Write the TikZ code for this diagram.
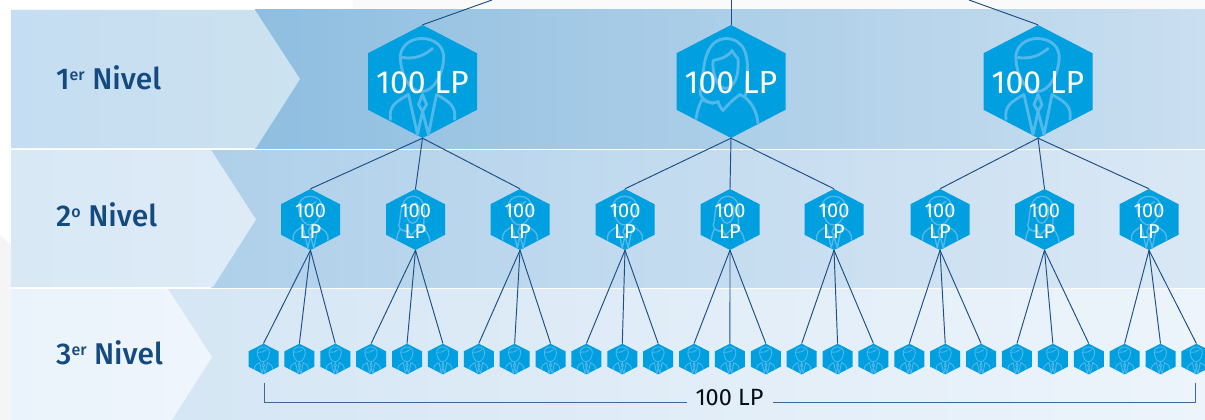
\documentclass[tikz,border=0pt]{standalone}
\usepackage{fontspec}
\setmainfont{Fira Sans}
\newfontfamily\labfont{Fira Sans Medium}
\definecolor{hexblue}{HTML}{009FE0}
\definecolor{iconblue}{HTML}{52B7E9}
\definecolor{linenavy}{HTML}{1B4F85}
\definecolor{labelnavy}{HTML}{134A80}
\definecolor{bandAl}{HTML}{8FBEE0}
\definecolor{bandAr}{HTML}{CADFF0}
\definecolor{tagAl}{HTML}{C5DDF2}
\definecolor{tagAr}{HTML}{CCE2F0}
\definecolor{bandBl}{HTML}{AFD0EA}
\definecolor{bandBr}{HTML}{DAE8F5}
\definecolor{tagBl}{HTML}{D8E8F5}
\definecolor{tagBr}{HTML}{DEEBF7}
\definecolor{bandCl}{HTML}{D5E6F4}
\definecolor{bandCr}{HTML}{EDF4FB}
\definecolor{tagCl}{HTML}{EAF3FB}
\definecolor{tagCr}{HTML}{EFF5FC}
\newcommand\manicon{%
  \draw (-22,-21) .. controls (-24,-35) and (-12,-43) .. (-1,-43) .. controls (12,-43) and (23,-35) .. (21,-21);
  \draw (-22,-21) .. controls (-21,-8) and (-14,10) .. (-1,10) .. controls (12,10) and (20,-8) .. (21,-21);
  \draw (-20,-24) .. controls (-8,-22) and (2,-26) .. (10,-33);
  \draw (-32,38) .. controls (-34,24) and (-26,20) .. (-14,13);
  \draw (32,38) .. controls (34,24) and (26,20) .. (14,13);
  \draw (-14,13) -- (-5,53) -- (0,30) -- (6,53) -- (14,13);
  \draw (0,13) -- (-4,23) -- (0,30) -- (4,23) -- cycle;
}
\newcommand\womanicon{%
  \draw (-18,22) .. controls (-26,20) and (-31,16) .. (-31,10) .. controls (-26,0) and (-32,-40) .. (-6,-43) .. controls (14,-43) and (18,-25) .. (16,-5) .. controls (15,5) and (16,10) .. (14,15);
  \draw (-18,-21) .. controls (-8,-23) and (-2,-26) .. (1,-31) .. controls (3,-27) and (5,-25) .. (7,-23) .. controls (8,-5) and (4,5) .. (-5,7) .. controls (-14,7) and (-19,-8) .. (-18,-21);
  \draw (-35,37) .. controls (-34,30) and (-32,24) .. (-29,18);
  \draw (-29,18) .. controls (-22,22) and (-16,22) .. (-13,20) .. controls (-12,24) and (-10,27) .. (-8,29) .. controls (-4,24) and (2,18) .. (9,13);
  \draw (9,13) .. controls (20,18) and (26,30) .. (27,42);
}
% #1 centre, #2 half width, #3 half height, #4 icon scale, #5 icon line width, #6 icon
\newcommand\hexpaint[6]{%
  \begin{scope}[shift={(#1)}]
    \fill[hexblue] (0,-#3) -- (#2,-#3/2) -- (#2,#3/2) -- (0,#3) -- (-#2,#3/2) -- (-#2,-#3/2) -- cycle;
    \begin{scope}[x=#4pt,y=-#4pt,draw=iconblue,line width=#5pt,line cap=round,line join=round]
      #6
    \end{scope}
  \end{scope}}
\tikzset{
  hexbig/.style={rectangle,inner sep=0pt,minimum width=109pt,minimum height=113pt,text=white,
    font=\fontsize{32}{32}\selectfont},
  hexmid/.style={rectangle,inner sep=0pt,minimum width=59pt,minimum height=61pt,text=white,align=center,
    font=\fontsize{20}{20.5}\selectfont},
  hexsmall/.style={rectangle,inner sep=0pt,minimum width=30pt,minimum height=30.6pt},
  link/.style={draw=linenavy,line width=0.95pt},
  bracketline/.style={draw=linenavy!85!white,line width=1pt},
  levellabel/.style={anchor=base west,inner sep=0pt,text=labelnavy,font=\labfont\fontsize{30}{30}\selectfont}
}
\newcommand\suptext[1]{\raisebox{8.5pt}{\fontsize{16}{16}\selectfont #1}}
\begin{document}
\begin{tikzpicture}[x=1pt,y=-1pt]
\useasboundingbox (0,0) rectangle (1205,420);
\fill[white] (0,0) rectangle (1205,420);
% faint backdrop
\fill[black!2] (353,0) rectangle (1205,10);
\fill[black!4] (0,235) -- (11,245) -- (11,420) -- (0,420) -- cycle;
% bands
\shade[left color=bandAl,right color=bandAr] (255,10) rectangle (1205,148);
\shade[left color=tagAl,right color=tagAr] (11,10) -- (255,10) -- (300,79) -- (256,148) -- (11,148) -- cycle;
\shade[left color=bandBl,right color=bandBr] (211,150) rectangle (1205,287);
\shade[left color=tagBl,right color=tagBr] (11,150) -- (211,150) -- (256,219.5) -- (213,287) -- (11,287) -- cycle;
\shade[left color=bandCl,right color=bandCr] (168,289) rectangle (1205,420);
\shade[left color=tagCl,right color=tagCr] (11,289) -- (168,289) -- (212,357) -- (172,420) -- (11,420) -- cycle;
% level labels
\node[levellabel] (l1) at (56,89) {1\suptext{er} Nivel};
\node[levellabel] (l2) at (56,226) {2\suptext{o} Nivel};
\node[levellabel] (l3) at (56,364) {3\suptext{er} Nivel};
% free ends of the top connectors
\coordinate (t1) at (492,0);
\coordinate (t2) at (731,0);
\coordinate (t3) at (969,0);
% first level
\foreach \i/\x/\ic in {1/422.5/\manicon,2/731/\womanicon,3/1038/\manicon}{
  \hexpaint{\x,81.5}{54.5}{56.5}{1}{2.9}{\ic}
  \node[hexbig] (a\i) at (\x,81.5) {\rule{0pt}{25pt}100 LP};
}
% second level
\foreach \i/\x/\ic in {1/310.5/\manicon,2/415.5/\womanicon,3/520/\manicon,4/625/\manicon,5/730/\womanicon,6/834/\manicon,7/940/\manicon,8/1044.5/\womanicon,9/1149/\manicon}{
  \hexpaint{\x,219.5}{29.5}{30.5}{0.54}{1.4}{\ic}
  \node[hexmid] (b\i) at (\x,219.5) {\rule{0pt}{17pt}100\\LP};
}
% third level
\foreach \i in {1,...,27}{
  \pgfmathsetmacro\cx{263.5+35.88*(\i-1)}
  \hexpaint{\cx,359}{15}{15.3}{0.28}{0.9}{\manicon}
  \node[hexsmall] (c\i) at (\cx,359) {};
}
% connectors
\draw[link] (t1) -- (a1.north);
\draw[link] (t2) -- (a2.north);
\draw[link] (t3) -- (a3.north);
\foreach \p/\q in {1/1,1/2,1/3,2/4,2/5,2/6,3/7,3/8,3/9}{
  \draw[link] (a\p.south) -- (b\q.north);
}
\foreach \q in {1,...,9}{
  \pgfmathtruncatemacro\ca{3*\q-2}
  \pgfmathtruncatemacro\cb{3*\q-1}
  \pgfmathtruncatemacro\cc{3*\q}
  \draw[link] (b\q.south) -- (c\ca.north);
  \draw[link] (b\q.south) -- (c\cb.north);
  \draw[link] (b\q.south) -- (c\cc.north);
}
% bracket
\node[inner sep=0pt,minimum width=85pt,minimum height=18pt,text=black!85!linenavy,font=\fontsize{23.5}{23.5}\selectfont] (total) at (729.5,398) {100 LP};
\coordinate (bl) at (264,383);
\coordinate (br) at (1195,383);
\coordinate (jl) at (687,402);
\coordinate (jr) at (773,402);
\draw[bracketline] (bl) |- (jl);
\draw[bracketline] (br) |- (jr);
\end{tikzpicture}
\end{document}
